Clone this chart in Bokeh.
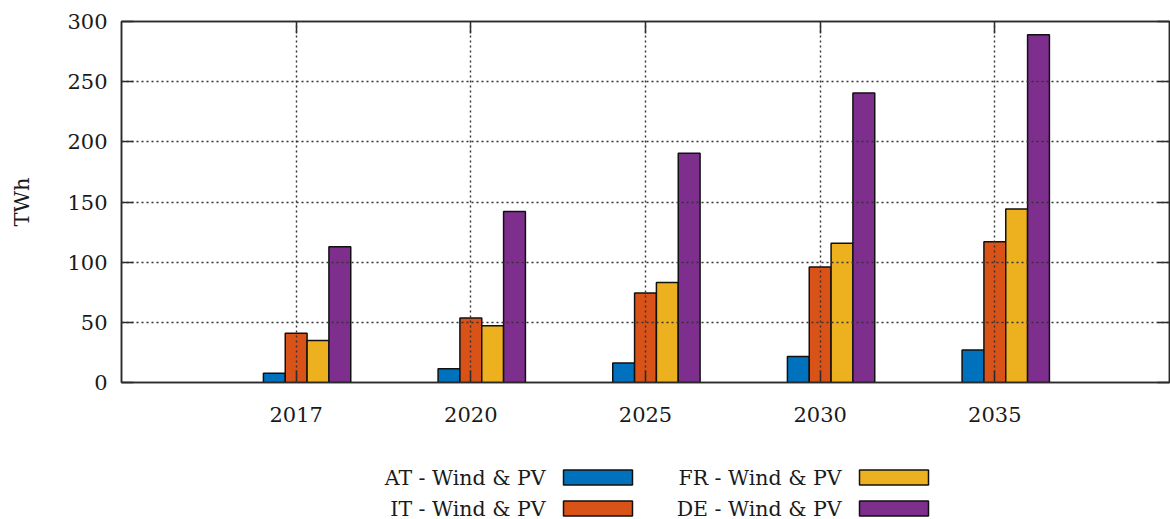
from bokeh.plotting import figure
from bokeh.models import (ColumnDataSource, FixedTicker, LinearAxis, Range1d,
                          CustomLabelingPolicy)
from bokeh.transform import dodge
from bokeh.layouts import column
from bokeh.core.properties import value
from bokeh.embed import file_html
from bokeh.resources import INLINE

# Yearly generation from wind and PV per country (TWh)
years = ["2017", "2020", "2025", "2030", "2035"]
at_vals = [7.6, 11.4, 16.2, 21.6, 27.0]
it_vals = [40.9, 53.6, 74.4, 95.9, 117.0]
fr_vals = [34.8, 47.2, 83.0, 115.8, 144.2]
de_vals = [112.9, 142.2, 190.5, 240.5, 288.9]

series_names = ["AT - Wind & PV", "IT - Wind & PV", "FR - Wind & PV", "DE - Wind & PV"]
series_keys = ["at", "it", "fr", "de"]
series_colors = ["#0072BD", "#D95319", "#EDB120", "#7E2F8E"]
y_ticks = [0, 50, 100, 150, 200, 250, 300]

FONT = "DejaVu Serif"
TEXT = "#1a1a1a"
FRAME = "#2a2a2a"

LEFT, FRAME_W, FRAME_H, TOP, BOTTOM = 121, 1048, 361, 21, 66

pos = list(range(1, len(years) + 1))
src = ColumnDataSource(dict(pos=pos, at=at_vals, it=it_vals, fr=fr_vals, de=de_vals))

p = figure(frame_width=FRAME_W, frame_height=FRAME_H, min_border_left=LEFT,
           min_border_right=1, min_border_top=TOP, min_border_bottom=BOTTOM,
           x_range=Range1d(0, 6), y_range=Range1d(0, 300),
           output_backend="svg", toolbar_location=None, background_fill_color="white")

bar_w = 0.125
offsets = [-0.125, 0.0, 0.125, 0.25]
for key, col, off in zip(series_keys, series_colors, offsets):
    p.vbar(x=dodge("pos", off, range=p.x_range), top=key, width=bar_w, bottom=0,
           source=src, fill_color=col, line_color="#111111", line_width=1.5)

# axes: inward ticks, mirrored on top and right
p.xaxis.ticker = FixedTicker(ticks=pos)
p.xaxis.major_label_overrides = {i: y for i, y in zip(pos, years)}
p.yaxis.ticker = FixedTicker(ticks=y_ticks)
p.yaxis.axis_label = "TWh"

for ax in (p.xaxis[0], p.yaxis[0]):
    ax.major_tick_in = 12
    ax.major_tick_out = 0
    ax.minor_tick_in = 0
    ax.minor_tick_out = 0
    ax.axis_line_color = FRAME
    ax.axis_line_width = 1.5
    ax.major_tick_line_color = FRAME
    ax.major_tick_line_width = 1.5
    ax.major_label_text_font = FONT
    ax.major_label_text_font_size = "21px"
    ax.major_label_text_color = TEXT
    ax.axis_label_text_font = FONT
    ax.axis_label_text_font_size = "21px"
    ax.axis_label_text_font_style = "normal"
    ax.axis_label_text_color = TEXT

p.xaxis.major_label_standoff = 24
p.yaxis.major_label_standoff = 14
p.yaxis.axis_label_standoff = 30

# mirrored tick marks only, no labels on these two
hide_labels = CustomLabelingPolicy(code="""
    const all = [...indices]
    for (const i of all) indices.unset(i)
    return indices
""")
top_ax = LinearAxis(ticker=FixedTicker(ticks=pos))
right_ax = LinearAxis(ticker=FixedTicker(ticks=y_ticks))
for ax in (top_ax, right_ax):
    ax.major_tick_in = 12
    ax.major_tick_out = 0
    ax.minor_tick_in = 0
    ax.minor_tick_out = 0
    ax.major_label_policy = hide_labels
    ax.major_label_standoff = 0
    ax.major_label_text_font_size = "1px"
    ax.axis_line_color = FRAME
    ax.axis_line_width = 1.5
    ax.major_tick_line_color = FRAME
    ax.major_tick_line_width = 1.5
p.add_layout(top_ax, "above")
p.add_layout(right_ax, "right")

p.outline_line_color = FRAME
p.outline_line_width = 1.5

for g in (p.xgrid[0], p.ygrid[0]):
    g.level = "overlay"
    g.grid_line_color = "#333333"
    g.grid_line_width = 1.4
    g.grid_line_dash = "2 3"
p.xgrid.ticker = FixedTicker(ticks=pos)
p.ygrid.ticker = FixedTicker(ticks=[50, 100, 150, 200, 250])

# legend strip below the chart (frame lines up with the chart's frame);
# coordinates here are page pixels: label text followed by a colour swatch
top_of_strip = TOP + FRAME_H + BOTTOM
strip_h = 519 - top_of_strip
lg = figure(frame_width=FRAME_W, frame_height=strip_h,
            x_range=Range1d(LEFT, LEFT + FRAME_W),
            y_range=Range1d(top_of_strip + strip_h, top_of_strip),
            x_axis_type=None, y_axis_type=None, min_border_left=LEFT,
            min_border_right=1, min_border_top=0, min_border_bottom=0,
            output_backend="svg", toolbar_location=None)
lg.grid.visible = False
lg.outline_line_color = None

order = [0, 2, 1, 3]  # AT, FR / IT, DE
col_x = [545, 841]
row_y = [477, 508]
leg = dict(name=[], color=[], tx=[], bx=[], y=[])
for slot, idx in enumerate(order):
    c, r = slot % 2, slot // 2
    leg["name"].append(series_names[idx])
    leg["color"].append(series_colors[idx])
    leg["tx"].append(col_x[c])
    leg["bx"].append(col_x[c] + 52.5)
    leg["y"].append(row_y[r])
lsrc = ColumnDataSource(leg)
lg.rect(x="bx", y="y", width=69, height=15, source=lsrc, fill_color="color",
        line_color="#111111", line_width=1.5)
lg.text(x="tx", y="y", text="name", source=lsrc, text_font=value(FONT),
        text_font_size="20.5px", text_color=TEXT, text_align="right",
        text_baseline="middle")

layout = column(p, lg, spacing=0)
open("out.html", "w").write(file_html(layout, INLINE))
